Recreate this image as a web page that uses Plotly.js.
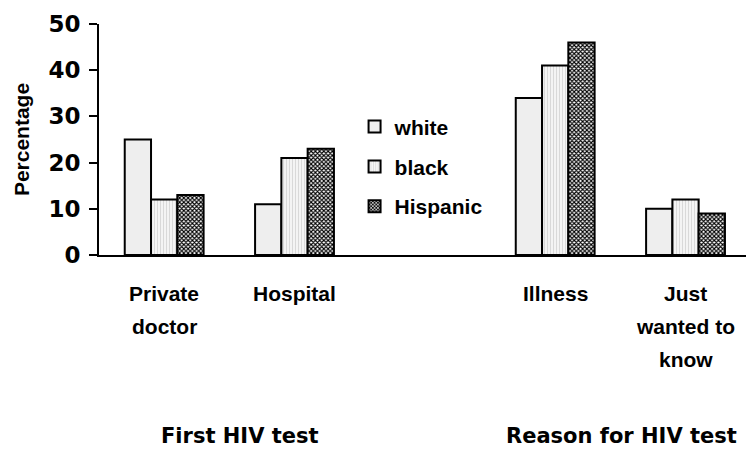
<!DOCTYPE html>
<html>
<head>
<meta charset="utf-8">
<script src="https://cdn.plot.ly/plotly-3.0.1.min.js"></script>
<style>html,body{margin:0;padding:0;background:#fff;}#chart{width:746px;height:451px;}</style>
</head>
<body>
<div id="chart"></div>
<script>
// ---- data ----
const groupNames = ["First HIV test", "Reason for HIV test"];
const categories = ["Private<br>doctor", "Hospital", "Illness", "Just<br>wanted to<br>know"];
const categoryGroup = [0, 0, 1, 1];
const seriesNames = ["white", "black", "Hispanic"];
const whiteValues = [25, 11, 34, 10];
const blackValues = [12, 21, 41, 12];
const hispanicValues = [13, 23, 46, 9];
const yTicks = [0, 10, 20, 30, 40, 50];

// build x categories with a blank spacer slot between the two groups
const SPACER = " ";
function withSpacer(arr, fill) {
  const out = [];
  arr.forEach((v, i) => {
    if (i > 0 && categoryGroup[i] !== categoryGroup[i - 1]) out.push(fill);
    out.push(v);
  });
  return out;
}
const xCats = withSpacer(categories, SPACER);

const FONT = "Liberation Sans, Arial, sans-serif";
const styles = [
  {color: "#eeeeee", pattern: {shape: ""}},
  {color: "#f2f2f2", pattern: {shape: "|", fgcolor: "#d6d6d6", bgcolor: "#f4f4f4", size: 3, solidity: 0.3}},
  {color: "#777777", pattern: {shape: "x", fgcolor: "#000000", bgcolor: "#ffffff", size: 3, solidity: 0.6}}
];
const values = [whiteValues, blackValues, hispanicValues];

const traces = seriesNames.map((name, k) => ({
  type: "bar",
  name: name,
  x: xCats,
  y: withSpacer(values[k], null),
  legendgroup: "g" + k,
  marker: {
    color: styles[k].color,
    pattern: styles[k].pattern,
    line: {color: "#000000", width: 2}
  },
  hoverinfo: "x+y+name"
}));

// x labels and group labels as annotations
const annotations = [];
categories.forEach((c, i) => {
  c.split("<br>").forEach((line, j) => {
    annotations.push({
      xref: "x", yref: "paper", x: c, y: 0,
      text: line, showarrow: false,
      xanchor: "center", yanchor: "middle",
      yshift: -38 - j * 33,
      font: {family: FONT, size: 21, color: "#000", weight: "bold"}
    });
  });
});
const groupLabelShift = [11, 1];
groupNames.forEach((g, gi) => {
  const idx = categories.map((c, i) => i).filter(i => categoryGroup[i] === gi);
  const pos = idx.map(i => xCats.indexOf(categories[i]));
  const center = (pos[0] + pos[pos.length - 1]) / 2;
  annotations.push({
    xref: "x", yref: "paper", x: center, y: 0,
    text: g, showarrow: false,
    xanchor: "center", yanchor: "middle",
    xshift: groupLabelShift[gi], yshift: -181,
    font: {family: "DejaVu Sans, sans-serif", size: 21, color: "#000", weight: "bold"}
  });
});

const layout = {
  width: 746, height: 451,
  margin: {l: 99, r: 0, t: 24, b: 196, pad: 0},
  paper_bgcolor: "#ffffff", plot_bgcolor: "#ffffff",
  barmode: "group", bargap: 0.395, bargroupgap: 0,
  showlegend: true,
  legend: {
    x: 0.395, y: 0.643, xanchor: "left", yanchor: "top",
    bgcolor: "rgba(0,0,0,0)", borderwidth: 0,
    tracegroupgap: 9.5,
    font: {family: FONT, size: 21, color: "#000", weight: "bold"}
  },
  xaxis: {
    type: "category",
    categoryorder: "array", categoryarray: xCats,
    range: [-0.5, 4.464],
    showticklabels: false, ticks: "",
    showline: true, linecolor: "#000", linewidth: 2,
    showgrid: false, zeroline: false, fixedrange: true
  },
  yaxis: {
    range: [0, 50], tickvals: yTicks,
    ticks: "outside", ticklen: 8, tickwidth: 2, tickcolor: "#000",
    ticklabelstandoff: 4,
    showline: true, linecolor: "#000", linewidth: 2,
    showgrid: false, zeroline: false,
    tickfont: {family: "DejaVu Sans, sans-serif", size: 23, color: "#000", weight: "bold"},
    title: {text: "Percentage", standoff: 13, font: {family: FONT, size: 21, color: "#000", weight: "bold"}},
    automargin: false, fixedrange: true
  },
  annotations: annotations
};

Plotly.newPlot("chart", traces, layout, {displayModeBar: false, staticPlot: true});
</script>
</body>
</html>
